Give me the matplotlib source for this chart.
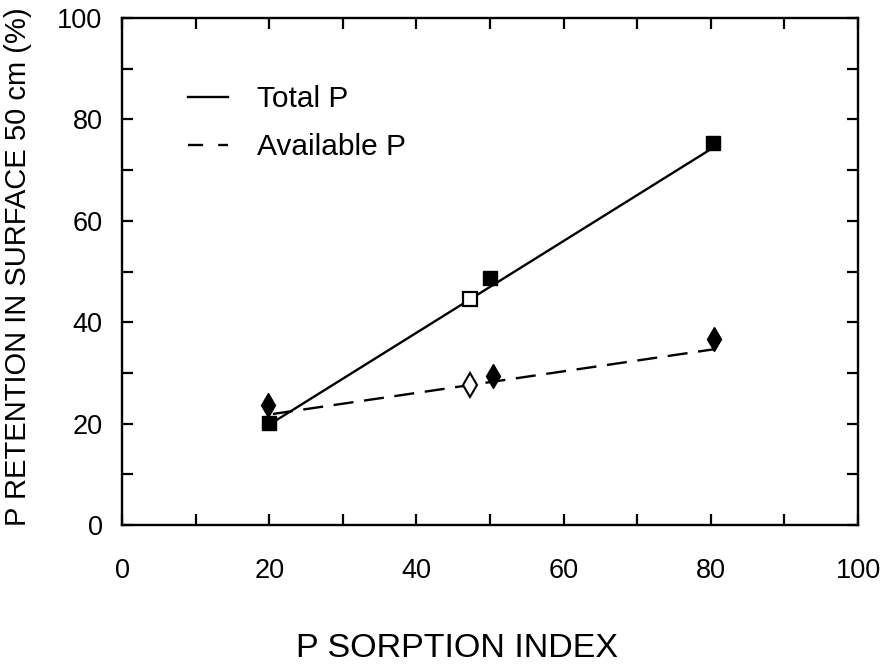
import matplotlib
matplotlib.use("Agg")
import matplotlib.pyplot as plt
from matplotlib.ticker import MultipleLocator
from matplotlib.lines import Line2D

plt.rcParams['font.family'] = ['Liberation Sans', 'DejaVu Sans']

# Data
sorption_filled = [20, 50, 80.3]
total_filled = [20.1, 48.7, 75.3]
sorption_open = [47.3]
total_open = [44.6]

avail_sorption_filled = [19.8, 50.4, 80.4]
avail_filled = [23.7, 29.4, 36.7]
avail_sorption_open = [47.3]
avail_open = [27.6]

# Fitted lines (end points)
total_fit_x = [20, 80.3]
total_fit_y = [19.8, 74.4]
avail_fit_x = [20.5, 80.6]
avail_fit_y = [21.9, 34.7]

legend_labels = ["Total P", "Available P"]

fig = plt.figure(figsize=(8.89, 6.67), dpi=100)
ax = fig.add_axes([122/889, 1-525/667, (858-122)/889, (525-18)/667])

ax.plot(total_fit_x, total_fit_y, color='black', lw=1.7)
ax.plot(avail_fit_x, avail_fit_y, color='black', lw=1.7, dashes=(8.5, 4.5))

ax.plot(sorption_filled, total_filled, 's', color='black', ms=10)
ax.plot(sorption_open, total_open, 's', mfc='white', mec='black', mew=1.6, ms=10)
ax.plot(avail_sorption_filled, avail_filled, 'd', color='black', ms=12.5)
ax.plot(avail_sorption_open, avail_open, 'd', mfc='white', mec='black', mew=1.5, ms=12.5)

ax.set_xlim(0, 100)
ax.set_ylim(0, 100)
ax.xaxis.set_major_locator(MultipleLocator(20))
ax.xaxis.set_minor_locator(MultipleLocator(10))
ax.yaxis.set_major_locator(MultipleLocator(20))
ax.yaxis.set_minor_locator(MultipleLocator(10))
ax.tick_params(which='both', direction='in', top=True, right=True, length=8, width=1.6)
ax.tick_params(axis='x', which='major', pad=24, labelsize=19.5)
ax.tick_params(axis='y', which='major', pad=14, labelsize=19.5)
for s in ax.spines.values():
    s.set_linewidth(1.7)

ax.set_xlabel("P SORPTION INDEX", fontsize=24.5)
ax.xaxis.set_label_coords(0.4545, -0.214)
ax.set_ylabel("P RETENTION IN SURFACE 50 cm (%)", fontsize=21)
ax.yaxis.set_label_coords(-0.122, 0.51)

handles = [Line2D([], [], color='black', lw=1.7),
           Line2D([], [], color='black', lw=1.7, dashes=(6.4, 6.4))]
ax.legend(handles, legend_labels, loc='upper left', frameon=False, fontsize=21.5,
          bbox_to_anchor=(188/889, 1-85/667), bbox_transform=fig.transFigure,
          borderpad=0, borderaxespad=0, handlelength=1.35, handletextpad=0.95,
          labelspacing=0.68)

fig.savefig("out.png", dpi=100)
